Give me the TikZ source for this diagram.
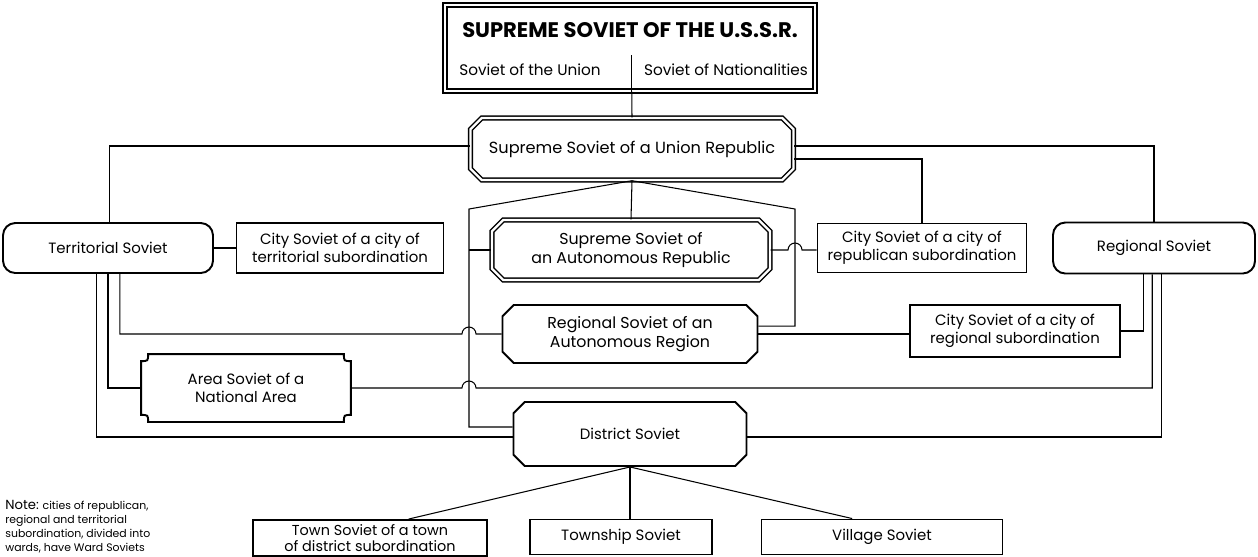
\documentclass[tikz,border=0pt]{standalone}
\usepackage{fontspec}
\setmainfont{Poppins}
\usetikzlibrary{shapes.misc,calc}

\tikzset{
  wire/.style={line width=0.6pt},
  unit/.style={draw, line width=1.1pt, align=center, inner sep=0.5pt, font=\fontsize{8.5}{10}\selectfont},
  plain unit/.style={unit, rectangle},
  round unit/.style={unit, rounded corners=7pt},
  cut unit/.style={unit, chamfered rectangle, chamfered rectangle xsep=3.2pt, chamfered rectangle ysep=3.2pt},
  twin/.style={line width=0.8pt, double distance=1.3pt},
}

\begin{document}
\begin{tikzpicture}[x=0.02cm, y=-0.02cm]
    \useasboundingbox (0,0) rectangle (1258,556);

    % Supreme Soviet of the USSR
    \node[unit, twin, minimum width=7.4cm, minimum height=1.72cm] (ussr) at (630,48) {};
    \node[font=\fontsize{12}{14}\selectfont\bfseries] (ussrtitle) at (630,30) {SUPREME SOVIET OF THE U.S.S.R.};
    \node[font=\fontsize{8.7}{11}\selectfont] (union chamber) at (530,70) {Soviet of the Union};
    \node[font=\fontsize{8.7}{11}\selectfont] (nat chamber) at (726,70) {Soviet of Nationalities};
    \draw[wire] ([xshift=1pt]ussr.south) -- ++(0,-37);

    % republic level
    \node[cut unit, twin, minimum width=6.46cm, minimum height=1.24cm, font=\fontsize{9.2}{11}\selectfont] (union) at (632,149) {Supreme Soviet of a Union Republic};
    \node[cut unit, twin, minimum width=5.56cm, minimum height=1.2cm, font=\fontsize{9}{11}\selectfont] (autrep) at (631,250) {Supreme Soviet of\\an Autonomous Republic};
    \node[cut unit, minimum width=5.1cm, minimum height=1.16cm, font=\fontsize{9}{11}\selectfont] (regauto) at (630,334) {Regional Soviet of an\\Autonomous Region};
    \node[cut unit, minimum width=4.66cm, minimum height=1.28cm] (district) at (630,434) {District Soviet};

    % side soviets
    \node[round unit, minimum width=4.2cm, minimum height=1cm] (terr) at (108,248) {Territorial Soviet};
    \node[plain unit, minimum width=4.14cm, minimum height=1cm] (cityterr) at (340,248) {City Soviet of a city of\\territorial subordination};
    \node[plain unit, minimum width=4.18cm, minimum height=0.98cm] (cityrep) at (922,248) {City Soviet of a city of\\republican subordination};
    \node[round unit, minimum width=4.04cm, minimum height=1.02cm] (reg) at (1154,248) {Regional Soviet};
    \node[plain unit, minimum width=4.2cm, minimum height=1.04cm] (cityreg) at (1015,331) {City Soviet of a city of\\regional subordination};

    % area soviet, corners cut inwards
    \node[unit, draw=none, minimum width=4.16cm, minimum height=1.32cm] (area) at (246,388) {Area Soviet of a\\National Area};
    \draw[line width=1.1pt] ([xshift=4pt]area.north west) -- ([xshift=-4pt]area.north east)
        .. controls ([xshift=-4pt,yshift=-4pt]area.north east) .. ([yshift=-4pt]area.north east)
        -- ([yshift=4pt]area.south east)
        .. controls ([xshift=-4pt,yshift=4pt]area.south east) .. ([xshift=-4pt]area.south east)
        -- ([xshift=4pt]area.south west)
        .. controls ([xshift=4pt,yshift=4pt]area.south west) .. ([yshift=4pt]area.south west)
        -- ([yshift=-4pt]area.north west)
        .. controls ([xshift=4pt,yshift=-4pt]area.north west) .. ([xshift=4pt]area.north west) -- cycle;

    % lowest level
    \node[plain unit, minimum width=4.68cm, minimum height=0.72cm, font=\fontsize{8.2}{9}\selectfont] (town) at (370,538) {Town Soviet of a town\\of district subordination};
    \node[plain unit, minimum width=3.64cm, minimum height=0.7cm] (township) at (621,537) {Township Soviet};
    \node[plain unit, minimum width=4.82cm, minimum height=0.7cm] (village) at (882,537) {Village Soviet};

    % note
    \node[anchor=north west, align=left, inner sep=0pt, font=\fontsize{6.2}{7.9}\selectfont] (note) at (5,500)
        {{\fontsize{7.5}{8}\selectfont Note:} cities of republican,\\regional and territorial\\subordination, divided into\\wards, have Ward Soviets};

    % links from the top
    \draw[wire] ([xshift=1pt]ussr.south) -- (union.north);
    \draw[wire] ([yshift=1.7pt]union.east) -| (reg.north);
    \draw[wire] ([yshift=-5.7pt]union.east) -| (cityrep.north);
    \draw[wire] ([yshift=1.7pt]union.west) -| ([xshift=1pt]terr.north);

    % fan below the union republic
    \coordinate (lsplit) at (469,209);
    \coordinate (rsplit) at (795,209);
    \draw[wire] (union.south) -- (autrep.north);
    \draw[wire] (union.south) -- (lsplit) |- ([yshift=4pt]district.west);
    \draw[wire] (lsplit |- autrep.west) -- (autrep.west);
    \draw[wire] (union.south) -- (rsplit) |- ([yshift=4.5pt]regauto.east);

    % links with hops
    \draw[wire] (autrep.east) -- ($(rsplit |- autrep.east)+(-7,0)$) arc[start angle=180, end angle=360, radius=7] -- (autrep.east -| cityrep.west);
    \draw[wire] ([xshift=6.8pt]terr.south) |- ($(lsplit |- regauto.west)+(-7,0)$) arc[start angle=180, end angle=360, radius=7] -- (regauto.west);
    \draw[wire] (area.east) -- ($(lsplit |- area.east)+(-7,0)$) arc[start angle=180, end angle=360, radius=7] -| ([xshift=-1pt]reg.south);

    % other links
    \draw[wire] (terr.east) -- (cityterr.west);
    \draw[wire] (regauto.east) -- (regauto.east -| cityreg.west);
    \draw[wire] ([xshift=-6.2pt]reg.south) |- (cityreg.east);
    \draw[wire] ([xshift=4.5pt]reg.south) |- ([yshift=-1.7pt]district.east);
    \draw[wire] (terr.south) |- (area.west);
    \draw[wire] ([xshift=-6.8pt]terr.south) |- ([yshift=-1.7pt]district.west);

    % district to the lowest level
    \draw[wire] (district.south) -- ([xshift=22pt]town.north);
    \draw[wire] (district.south) -- (district.south |- township.north);
    \draw[wire] (district.south) -- ([xshift=-17pt]village.north);
\end{tikzpicture}
\end{document}
